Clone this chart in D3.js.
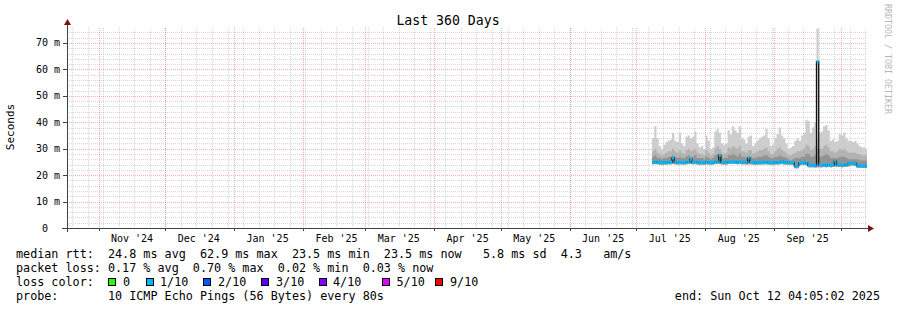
<!DOCTYPE html>
<html>
<head>
<meta charset="utf-8">
<script src="https://cdn.jsdelivr.net/npm/d3@7"></script>
<style>
  body { margin: 0; background: #fff; }
  svg { display: block; font-family: "DejaVu Sans Mono", monospace; }
</style>
</head>
<body>
<svg id="chart" width="897" height="310"></svg>
<script>
// ---- data (ms), one value per day starting at dataStart ----
const rangeStart = "2024-10-17T17:30:00Z";
const rangeEnd = "2025-10-12T17:30:00Z";
const dataStart = "2025-07-07T12:00:00Z";

const medianRtt = [
  24.8, 25.0, 24.9, 24.8, 24.7, 24.8, 24.8, 24.9, 24.9, 26.5,
  24.9, 24.8, 24.9, 24.8, 24.8, 24.9, 25.0, 26.0, 24.9, 25.0,
  24.8, 24.7, 24.8, 24.7, 24.9, 24.8, 24.7, 24.8, 25.0, 25.1,
  27.5, 24.8, 24.8, 24.8, 25.0, 25.0, 25.1, 25.0, 24.9, 25.1,
  24.9, 24.9, 24.8, 26.5, 24.9, 24.8, 24.7, 24.8, 24.8, 24.8,
  24.9, 24.9, 24.8, 24.7, 24.7, 24.8, 24.8, 24.9, 25.2, 24.8,
  24.9, 24.8, 24.8, 24.7, 23.4, 23.4, 24.6, 24.7, 24.7, 24.6,
  23.8, 23.8, 23.8, 23.7, 62.9, 23.8, 23.8, 23.9, 23.8, 23.9,
  23.8, 23.9, 25.3, 24.0, 23.9, 23.8, 23.9, 24.0, 24.3, 24.5,
  24.5, 24.4, 23.6, 23.6, 23.5, 23.5, 23.5
];

const smokeMax = [
  34, 38.5, 34, 31, 30, 31.5, 32.5, 33, 33.5, 36,
  33, 32.5, 36, 32, 31, 34.5, 35, 34, 34.5, 36.5,
  32, 30.5, 31, 30, 35, 33, 30, 30.5, 36.5, 37.5,
  36, 32, 31.5, 32, 37, 35.5, 38.5, 37, 36, 38.5,
  34, 33.5, 32, 34.5, 35, 31, 32, 33, 34, 34.5,
  35, 37.5, 34, 31, 31.5, 34, 35.5, 38, 35, 34,
  32, 30, 30.5, 31, 33, 34, 33, 35, 36, 41,
  40.5, 36, 38, 40, 75.5, 36, 36.5, 38.5, 39, 37,
  33, 33.5, 32.5, 33, 35.5, 35, 36, 34, 33, 33,
  32.5, 33, 32, 31, 30.5, 30.5, 30
];

const smokeHigh = [
  29, 30, 28.5, 28, 27.5, 28, 28.5, 29, 29, 30,
  29, 28.5, 29.5, 28.5, 28, 29.5, 30, 29, 29.5, 30,
  28.5, 28, 28, 27.5, 29.5, 28.5, 27.5, 28, 30, 31,
  30, 28.5, 28, 28.5, 30.5, 30, 31, 30.5, 30, 31,
  29, 29, 28.5, 29.5, 29.5, 28, 28.5, 29, 29.5, 29.5,
  30, 30.5, 29, 28, 28, 29, 30, 30.5, 29.5, 29,
  28.5, 27.5, 27.5, 28, 28.5, 29, 29, 29.5, 30, 31.5,
  31, 29.5, 30, 31, 34, 30, 30, 31, 31.5, 30.5,
  29, 29, 28.5, 29, 30, 29.5, 30, 29, 28.5, 28.5,
  28.5, 28.5, 28, 28, 27.5, 27.5, 27.5
];

const smokeMid = [
  27, 27.5, 26.5, 26.5, 26, 26.5, 26.5, 27, 27, 27.5,
  27, 26.5, 27, 26.5, 26.5, 27, 27.5, 27, 27, 27.5,
  26.5, 26.5, 26.5, 26, 27, 26.5, 26, 26.5, 27.5, 28,
  27.5, 26.5, 26.5, 26.5, 27.5, 27.5, 28, 27.5, 27, 28,
  27, 27, 26.5, 27, 27, 26.5, 26.5, 27, 27, 27,
  27.5, 27.5, 27, 26.5, 26.5, 27, 27, 27.5, 27, 27,
  26.5, 26, 25.5, 26, 26.5, 26.5, 26.5, 27, 27, 28,
  28, 27, 27, 27.5, 30, 27, 27, 27.5, 28, 27.5,
  26.5, 26.5, 26.5, 26.5, 27, 27, 27, 26.5, 26, 26,
  26, 26, 26, 25.5, 25.5, 25.5, 25.5
];

const smokeMin = [
  24.1, 24.2, 24.1, 24.0, 23.9, 24.0, 24.0, 24.1, 24.1, 24.2,
  24.1, 24.0, 24.1, 24.0, 24.0, 24.1, 24.2, 24.2, 24.1, 24.2,
  24.0, 23.9, 24.0, 23.9, 24.1, 24.0, 23.9, 24.0, 24.2, 24.3,
  24.2, 24.0, 24.0, 24.0, 24.2, 24.2, 24.3, 24.2, 24.1, 24.3,
  24.1, 24.1, 24.0, 24.1, 24.1, 24.0, 23.9, 24.0, 24.0, 24.0,
  24.1, 24.1, 24.0, 23.9, 23.9, 24.0, 24.0, 24.1, 24.2, 24.0,
  24.0, 23.9, 23.9, 23.8, 22.6, 22.6, 23.7, 23.8, 23.8, 23.7,
  23.0, 23.0, 23.0, 22.9, 23.0, 23.0, 23.0, 23.1, 23.0, 23.1,
  23.0, 23.1, 23.3, 23.2, 23.1, 23.0, 23.1, 23.2, 23.4, 23.6,
  23.6, 23.5, 22.8, 22.8, 22.7, 22.7, 22.7
];

const yMajorTicks = [0, 10, 20, 30, 40, 50, 60, 70];
const lossLabels = ["0", "1/10", "2/10", "3/10", "4/10", "5/10", "9/10"];
const lossColors = ["#26ff00", "#00b8ff", "#0059ff", "#5e00ff", "#7e00ff", "#dd00ff", "#ff0000"];

const legendRows = [
  "median rtt:  24.8 ms avg  62.9 ms max  23.5 ms min  23.5 ms now   5.8 ms sd  4.3   am/s",
  "packet loss: 0.17 % avg  0.70 % max  0.02 % min  0.03 % now",
  "loss color:",
  "probe:       10 ICMP Echo Pings (56 Bytes) every 80s"
];
const endLabel = "end: Sun Oct 12 04:05:02 2025";

// ---- layout ----
const plotLeft = 67, plotRight = 867, plotTop = 28, plotBottom = 228;
const svg = d3.select("#chart");
svg.append("rect").attr("width", 897).attr("height", 310).attr("fill", "#fff");

const x = d3.scaleUtc()
  .domain([new Date(rangeStart), new Date(rangeEnd)])
  .range([plotLeft, plotRight]);
const y = d3.scaleLinear().domain([0, 75.67]).range([plotBottom, plotTop]);

const minorColor = "rgba(143,143,143,0.35)";
const majorColor = "rgba(233,59,59,0.4)";

// grid
const grid = svg.append("g").attr("shape-rendering", "crispEdges");
const weeks = d3.utcSunday.range(x.domain()[0], x.domain()[1]);
const months = d3.utcMonth.range(x.domain()[0], x.domain()[1]);
grid.selectAll(".vmin").data(weeks).enter().append("line")
  .attr("x1", d => Math.round(x(d)) + 0.5).attr("x2", d => Math.round(x(d)) + 0.5)
  .attr("y1", plotTop).attr("y2", plotBottom)
  .attr("stroke", minorColor).attr("stroke-dasharray", "1,1");
const hMinor = d3.range(2, 76, 2).filter(v => v % 10 !== 0);
grid.selectAll(".hmin").data(hMinor).enter().append("line")
  .attr("x1", plotLeft).attr("x2", plotRight)
  .attr("y1", d => Math.round(y(d)) + 0.5).attr("y2", d => Math.round(y(d)) + 0.5)
  .attr("stroke", minorColor).attr("stroke-dasharray", "1,1");
grid.selectAll(".vmaj").data(months).enter().append("line")
  .attr("x1", d => Math.round(x(d)) + 0.5).attr("x2", d => Math.round(x(d)) + 0.5)
  .attr("y1", plotTop).attr("y2", plotBottom)
  .attr("stroke", majorColor).attr("stroke-dasharray", "1,1");
grid.selectAll(".hmaj").data(yMajorTicks.filter(v => v > 0)).enter().append("line")
  .attr("x1", plotLeft).attr("x2", plotRight)
  .attr("y1", d => Math.round(y(d)) + 0.5).attr("y2", d => Math.round(y(d)) + 0.5)
  .attr("stroke", majorColor).attr("stroke-dasharray", "1,1");

// smoke + median
const days = d3.utcDay.range(new Date(dataStart), d3.utcDay.offset(new Date(dataStart), medianRtt.length + 1));
const rows = days.map((d, i) => {
  const k = Math.min(i, medianRtt.length - 1);
  return { t: d, med: medianRtt[k], max: smokeMax[k], high: smokeHigh[k], mid: smokeMid[k], min: smokeMin[k] };
});

svg.append("clipPath").attr("id", "plot")
  .append("rect").attr("x", plotLeft).attr("y", plotTop).attr("width", plotRight - plotLeft).attr("height", plotBottom - plotTop);
const plot = svg.append("g").attr("clip-path", "url(#plot)");

const band = (key, color) => {
  plot.append("path").datum(rows)
    .attr("fill", color)
    .attr("d", d3.area().curve(d3.curveStepAfter)
      .x(d => x(d.t)).y0(d => y(d.min)).y1(d => y(d[key])));
};
band("max", "#cdcdcd");
band("high", "#b3b3b3");
band("mid", "#939393");

plot.append("path").datum(rows)
  .attr("fill", "none").attr("stroke", "#111").attr("stroke-width", 1.3)
  .attr("d", d3.line().curve(d3.curveStepAfter).x(d => x(d.t)).y(d => y(d.med)));

plot.selectAll(".seg").data(rows.slice(0, medianRtt.length)).enter().append("line")
  .attr("x1", d => x(d.t)).attr("x2", (d, i) => x(rows[i + 1].t))
  .attr("y1", d => y(d.med)).attr("y2", d => y(d.med))
  .attr("stroke", lossColors[1]).attr("stroke-width", 3);

// axes
const axisColor = "#3b4540";
svg.append("line").attr("x1", plotLeft - 5).attr("x2", plotRight + 2).attr("y1", plotBottom + 0.5).attr("y2", plotBottom + 0.5)
  .attr("stroke", axisColor);
svg.append("line").attr("x1", plotLeft + 0.5).attr("x2", plotLeft + 0.5).attr("y1", plotBottom + 4).attr("y2", plotTop - 4)
  .attr("stroke", axisColor);
svg.append("path").attr("d", `M${plotLeft - 3},${plotTop - 3} L${plotLeft + 0.5},${plotTop - 9} L${plotLeft + 4},${plotTop - 3} Z`).attr("fill", "#7f1010");
svg.append("path").attr("d", `M${plotRight + 1},${plotBottom - 3} L${plotRight + 7},${plotBottom + 0.5} L${plotRight + 1},${plotBottom + 4} Z`).attr("fill", "#7f1010");

svg.selectAll(".ytick").data(yMajorTicks).enter().append("line")
  .attr("x1", plotLeft - 4).attr("x2", plotLeft)
  .attr("y1", d => Math.round(y(d)) + 0.5).attr("y2", d => Math.round(y(d)) + 0.5)
  .attr("stroke", axisColor);
svg.selectAll(".xtick").data(months).enter().append("line")
  .attr("x1", d => Math.round(x(d)) + 0.5).attr("x2", d => Math.round(x(d)) + 0.5)
  .attr("y1", plotBottom).attr("y2", plotBottom + 3)
  .attr("stroke", axisColor);

svg.selectAll(".ylab").data(yMajorTicks).enter().append("text")
  .attr("x", d => d === 0 ? 48 : 60).attr("y", d => y(d))
  .attr("text-anchor", "end").attr("dominant-baseline", "central")
  .attr("font-size", "10px").attr("fill", "#000")
  .text(d => d === 0 ? "0" : d + " m");

const monthFmt = d3.utcFormat("%b '%y");
const labelDates = months.map(m => d3.utcDay.offset(m, 15)).filter(d => d < x.domain()[1]);
svg.selectAll(".xlab").data(labelDates).enter().append("text")
  .attr("x", d => x(d)).attr("y", 238)
  .attr("text-anchor", "middle").attr("dominant-baseline", "central")
  .attr("font-size", "10px").attr("fill", "#000")
  .text(d => monthFmt(d3.utcDay.offset(d, -15)));

// title, axis label, watermark
svg.append("text").attr("x", 448).attr("y", 20)
  .attr("text-anchor", "middle").attr("dominant-baseline", "central")
  .attr("font-size", "13.2px").attr("fill", "#000").text("Last 360 Days");
svg.append("text").attr("transform", "translate(10,127) rotate(-90)")
  .attr("text-anchor", "middle").attr("dominant-baseline", "central")
  .attr("font-size", "11px").attr("fill", "#000").text("Seconds");
svg.append("text").attr("transform", "translate(887.5,4) rotate(90)")
  .attr("text-anchor", "start").attr("dominant-baseline", "central")
  .attr("font-size", "8.3px").attr("fill", "#b8b8b8").text("RRDTOOL / TOBI OETIKER");

// legend
const legendY = [254.3, 268.3, 282.3, 296];
svg.selectAll(".leg").data(legendRows).enter().append("text")
  .attr("x", 16).attr("y", (d, i) => legendY[i])
  .attr("dominant-baseline", "central").attr("font-size", "11.75px").attr("fill", "#000")
  .style("white-space", "pre")
  .text(d => d);

const swatchX = [108, 145.5, 203, 261, 318.5, 381.5, 435];
const swatchTextX = [123, 160, 218, 276, 333, 396.5, 450];
svg.selectAll(".sw").data(lossColors).enter().append("rect")
  .attr("x", (d, i) => swatchX[i] + 0.5).attr("y", 278.5)
  .attr("width", 7).attr("height", 7)
  .attr("fill", d => d).attr("stroke", "#000").attr("shape-rendering", "crispEdges");
svg.selectAll(".swl").data(lossLabels).enter().append("text")
  .attr("x", (d, i) => swatchTextX[i]).attr("y", 282.3)
  .attr("dominant-baseline", "central").attr("font-size", "11.75px").attr("fill", "#000")
  .text(d => d);

svg.append("text").attr("x", 880).attr("y", 296)
  .attr("text-anchor", "end").attr("dominant-baseline", "central")
  .attr("font-size", "11.75px").attr("fill", "#000").text(endLabel);
</script>
</body>
</html>
